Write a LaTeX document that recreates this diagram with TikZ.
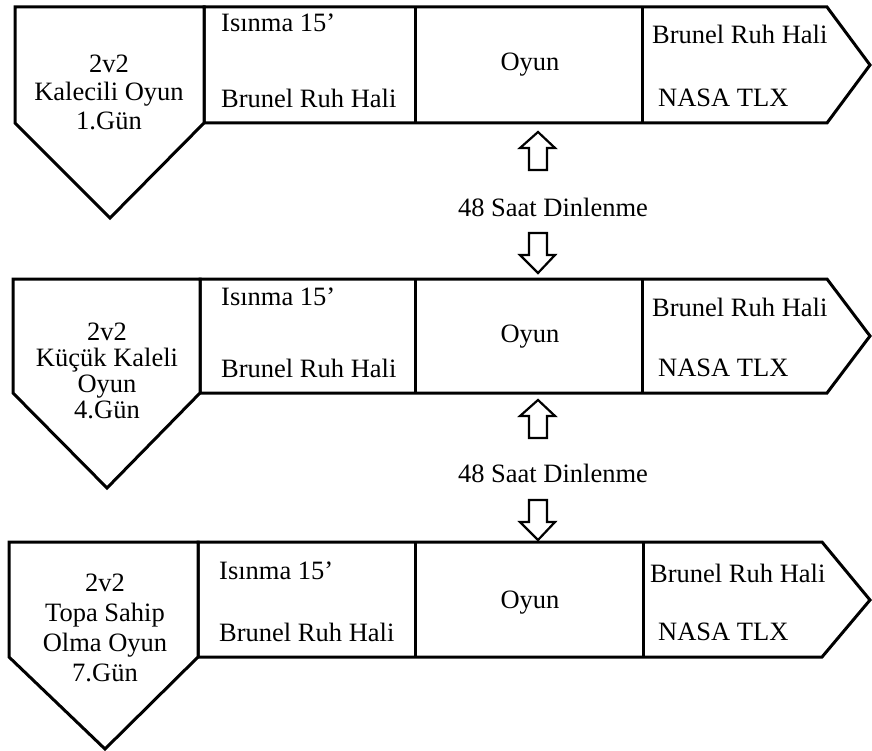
\documentclass[tikz,border=0pt]{standalone}
\usepackage{fontspec}
\setmainfont{Liberation Serif}
\begin{document}
\begin{tikzpicture}[x=1pt,y=-1pt,
  frame/.style={draw=black,line width=3pt,line join=miter,fill=white},
  divider/.style={draw=black,line width=3pt},
  blockarrow/.style={draw=black,line width=2.2pt,line join=miter,fill=white},
  txt/.style={font=\fontsize{26.5}{29}\selectfont,inner sep=0pt},
  ptxt/.style={txt,align=center}]
\useasboundingbox (0,0) rectangle (872,751);

% ---------- Row 1 ----------
\draw[frame] (204,7) -- (827,7) -- (870,65) -- (827,123) -- (204,123) -- cycle;
\draw[frame] (15,7) -- (204,7) -- (204,123) -- (110,218) -- (15,123) -- cycle;
\draw[divider] (415,7) -- (415,123);
\draw[divider] (642,7) -- (642,123);
\node[ptxt,font=\fontsize{26.5}{28.5}\selectfont] (p1) at (109,92) {2v2\\Kalecili Oyun\\1.Gün};
\node[txt,anchor=west] (w1) at (221,23) {Isınma 15’};
\node[txt,anchor=west] (b1) at (221,98) {Brunel Ruh Hali};
\node[txt] (o1) at (530,65) {Oyun};
\node[txt,anchor=west] (r1) at (652,34) {Brunel Ruh Hali};
\node[txt,anchor=west] (n1) at (658,98) {NASA TLX};

% arrows 1-2
\draw[blockarrow] (538,132) -- (555,148) -- (547,148) -- (547,170) -- (529,170) -- (529,148) -- (520,148) -- cycle;
\node[txt] (d1) at (553,207) {48 Saat Dinlenme};
\draw[blockarrow] (529,233) -- (547,233) -- (547,255) -- (555,255) -- (538,273) -- (520,255) -- (529,255) -- cycle;

% ---------- Row 2 ----------
\draw[frame] (200,279) -- (827,279) -- (870,336) -- (827,393) -- (200,393) -- cycle;
\draw[frame] (13,279) -- (200,279) -- (200,393) -- (107,488) -- (13,393) -- cycle;
\draw[divider] (415,279) -- (415,393);
\draw[divider] (642,279) -- (642,393);
\node[ptxt,font=\fontsize{26.5}{26}\selectfont] (p2) at (107,371) {2v2\\Küçük Kaleli\\Oyun\\4.Gün};
\node[txt,anchor=west] (w2) at (221,297) {Isınma 15’};
\node[txt,anchor=west] (b2) at (221,368) {Brunel Ruh Hali};
\node[txt] (o2) at (530,337) {Oyun};
\node[txt,anchor=west] (r2) at (652,307) {Brunel Ruh Hali};
\node[txt,anchor=west] (n2) at (658,368) {NASA TLX};

% arrows 2-3
\draw[blockarrow] (538,400) -- (555,416) -- (547,416) -- (547,438) -- (529,438) -- (529,416) -- (520,416) -- cycle;
\node[txt] (d2) at (553,473) {48 Saat Dinlenme};
\draw[blockarrow] (529,500) -- (547,500) -- (547,522) -- (555,522) -- (538,540) -- (520,522) -- (529,522) -- cycle;

% ---------- Row 3 ----------
\draw[frame] (198,542) -- (822,542) -- (870,600) -- (822,657) -- (198,657) -- cycle;
\draw[frame] (9,542) -- (198,542) -- (198,657) -- (105,749) -- (9,657) -- cycle;
\draw[divider] (415,542) -- (415,657);
\draw[divider] (643,542) -- (643,657);
\node[ptxt,font=\fontsize{26.5}{30}\selectfont] (p3) at (105,628) {2v2\\Topa Sahip\\Olma Oyun\\7.Gün};
\node[txt,anchor=west] (w3) at (219,571) {Isınma 15’};
\node[txt,anchor=west] (b3) at (219,632) {Brunel Ruh Hali};
\node[txt] (o3) at (530,603) {Oyun};
\node[txt,anchor=west] (r3) at (650,573) {Brunel Ruh Hali};
\node[txt,anchor=west] (n3) at (658,632) {NASA TLX};
\end{tikzpicture}
\end{document}
